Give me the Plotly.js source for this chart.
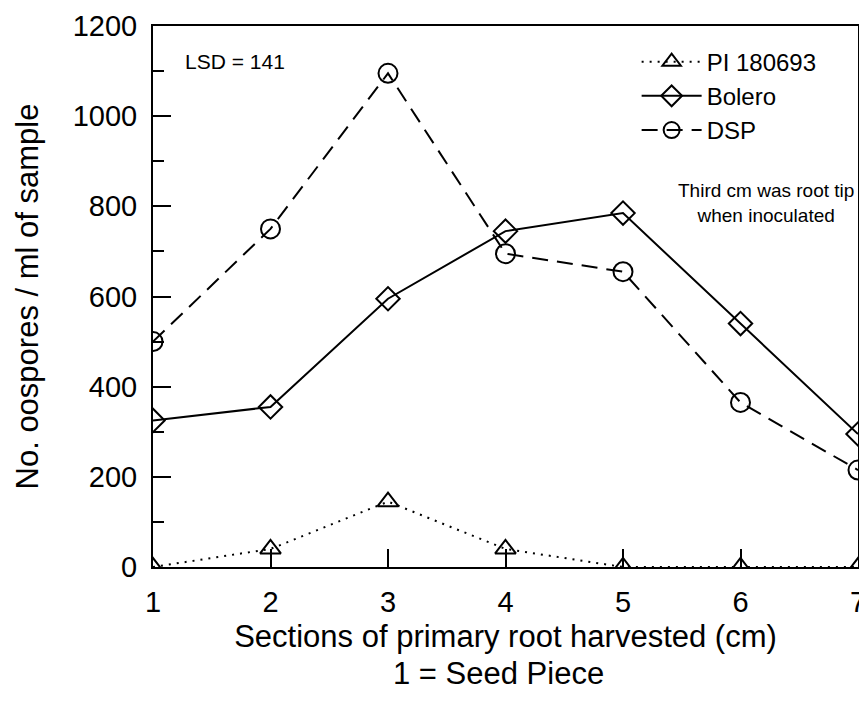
<!DOCTYPE html>
<html>
<head>
<meta charset="utf-8">
<script src="https://cdn.plot.ly/plotly-3.0.1.min.js"></script>
<style>html,body{margin:0;padding:0;background:#fff;}#chart{width:859px;height:712px;}</style>
</head>
<body>
<div id="chart"></div>
<script>
const sections = [1, 2, 3, 4, 5, 6, 7];
const pi180693 = [0, 40, 145, 40, 0, 0, 0];
const bolero = [325, 355, 595, 745, 785, 540, 295];
const dsp = [500, 750, 1095, 695, 655, 365, 215];
const seriesNames = ['PI 180693', 'Bolero', 'DSP'];
const yTicks = [0, 200, 400, 600, 800, 1000, 1200];
const xTicks = [1, 2, 3, 4, 5, 6, 7];

const font = 'Arial, "Liberation Sans", sans-serif';

const traces = [
  {x: sections, y: pi180693, name: seriesNames[0], mode: 'lines+markers',
   line: {color: '#000', width: 2, dash: '2px,6px'},
   marker: {symbol: 'triangle-up-open', size: 18, color: '#000', line: {width: 2, color: '#000'}}},
  {x: sections, y: bolero, name: seriesNames[1], mode: 'lines+markers',
   line: {color: '#000', width: 2},
   marker: {symbol: 'diamond-open', size: 18, color: '#000', line: {width: 2, color: '#000'}}},
  {x: sections, y: dsp, name: seriesNames[2], mode: 'lines+markers',
   line: {color: '#000', width: 2, dash: '16px,9px'},
   marker: {symbol: 'circle-open', size: 19, color: '#000', line: {width: 2, color: '#000'}}}
];

const layout = {
  width: 859, height: 712,
  margin: {l: 153, r: 1, t: 26, b: 145},
  paper_bgcolor: '#fff', plot_bgcolor: '#fff',
  font: {family: font, color: '#000'},
  showlegend: true,
  legend: {x: 0.686, y: 0.975, xanchor: 'left', yanchor: 'top', bgcolor: 'rgba(0,0,0,0)',
           font: {size: 24, family: font, color: '#000'}, itemwidth: 60, tracegroupgap: 0},
  xaxis: {
    range: [1, 7], tickvals: xTicks, ticks: 'inside', ticklen: 18, tickwidth: 2, tickcolor: '#000',
    showline: true, linewidth: 2, linecolor: '#000', mirror: true, showgrid: false, zeroline: false,
    tickfont: {size: 29, family: font, color: '#000'}, ticklabelstandoff: 8, ticklabeloverflow: 'allow',
    title: {text: 'Sections of primary root harvested (cm)', font: {size: 31, family: font, color: '#000'}, standoff: 9}
  },
  yaxis: {
    range: [0, 1200], tickvals: yTicks, ticks: 'inside', ticklen: 18, tickwidth: 2, tickcolor: '#000',
    showline: true, linewidth: 2, linecolor: '#000', mirror: true, showgrid: false, zeroline: false,
    tickfont: {size: 29, family: font, color: '#000'}, ticklabelstandoff: 8,
    minor: {dtick: 100, ticks: 'inside', ticklen: 11, tickwidth: 2, tickcolor: '#000', showgrid: false},
    title: {text: 'No. oospores / ml of sample', font: {size: 31, family: font, color: '#000'}, standoff: 25}
  },
  annotations: [
    {text: 'LSD = 141', xref: 'paper', yref: 'paper', x: 0.043, y: 0.935, xanchor: 'left', yanchor: 'middle',
     showarrow: false, font: {size: 21, family: font, color: '#000'}},
    {text: 'Third cm was root tip<br>when inoculated', xref: 'paper', yref: 'paper', x: 0.87, y: 0.672, xanchor: 'center', yanchor: 'middle',
     showarrow: false, font: {size: 19, family: font, color: '#000'}},
    {text: '1 = Seed Piece', xref: 'paper', yref: 'paper', x: 0.49, y: -0.196, xanchor: 'center', yanchor: 'middle',
     showarrow: false, font: {size: 31, family: font, color: '#000'}}
  ]
};

Plotly.newPlot('chart', traces, layout, {displayModeBar: false, staticPlot: true});
</script>
</body>
</html>
